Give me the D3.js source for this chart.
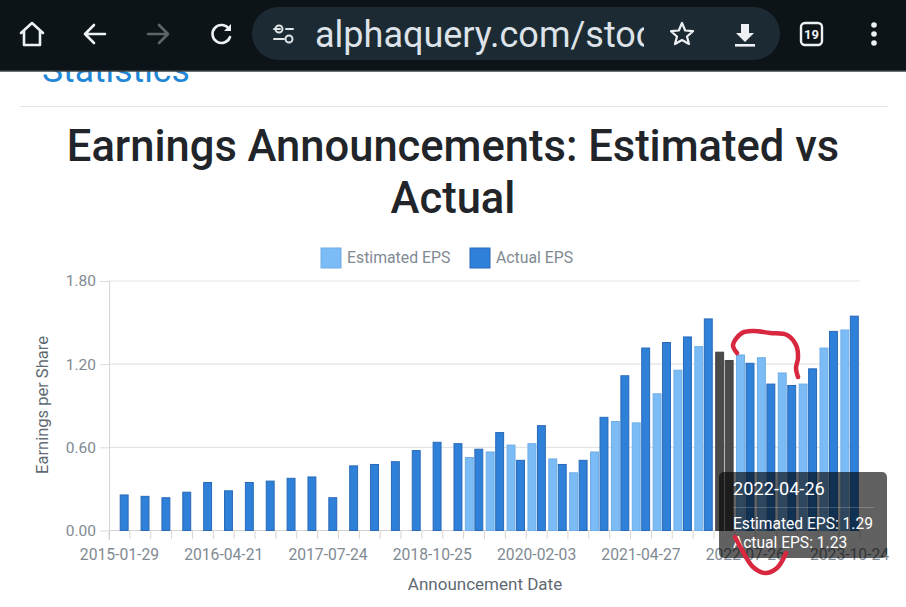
<!DOCTYPE html>
<html>
<head>
<meta charset="utf-8">
<script src="https://cdn.jsdelivr.net/npm/d3@7"></script>
<style>
  html,body{margin:0;padding:0;background:#fff;overflow:hidden}
  text{font-family:Roboto,sans-serif}
</style>
</head>
<body>
<svg id="chart" width="906" height="607"></svg>
<script>
const W = 906, H = 607;

// oldest first; no estimate for the first 17 announcements
const estimated = [null,null,null,null,null,null,null,null,null,null,null,null,null,null,null,null,null,
  0.53,0.57,0.62,0.63,0.52,0.42,0.57,0.79,0.78,0.99,1.16,1.33,1.29,1.27,1.25,1.14,1.06,1.32,1.45];
const actual = [0.26,0.25,0.24,0.28,0.35,0.29,0.35,0.36,0.38,0.39,0.24,0.47,0.48,0.50,0.58,0.64,0.63,
  0.59,0.71,0.51,0.76,0.48,0.51,0.82,1.12,1.32,1.36,1.40,1.53,1.23,1.21,1.06,1.05,1.17,1.44,1.55];
const xLabels = ['2015-01-29','2016-04-21','2017-07-24','2018-10-25','2020-02-03','2021-04-27','2022-07-26','2023-10-24'];
const yTicks = [0,0.6,1.2,1.8];
const seriesNames = ['Estimated EPS','Actual EPS'];
const seriesColors = ['#7bbcf6','#2f80d9'];
const seriesBorders = ['#6fade6','#2869b8'];
const hoverIndex = 29, hoverDate = '2022-04-26';

const svg = d3.select('#chart');

// ---- page behind the chart
svg.append('text').attr('x',42).attr('y',82).attr('font-size',35.5).attr('fill','#1f87d6').text('Statistics');
svg.append('line').attr('x1',20).attr('x2',888).attr('y1',106.5).attr('y2',106.5).attr('stroke','#e2e2e2');

svg.append('text').attr('x',453).attr('y',161).attr('text-anchor','middle').attr('font-size',43.5)
  .attr('font-weight',500).attr('fill','#212529').text('Earnings Announcements: Estimated vs');
svg.append('text').attr('x',453).attr('y',213).attr('text-anchor','middle').attr('font-size',43.5)
  .attr('font-weight',500).attr('fill','#212529').text('Actual');

// ---- scales
const x = d3.scaleBand().domain(d3.range(actual.length)).range([109,860]);
const inner = d3.scaleBand().domain([0,1]).range([0,x.bandwidth()]).paddingInner(0.06).paddingOuter(0.13);
const y = d3.scaleLinear().domain([0,1.8]).range([530.5,281]);

// ---- grid and axes
const gy = svg.append('g').attr('transform','translate(109,0)')
  .call(d3.axisLeft(y).tickValues(yTicks).tickFormat(d3.format('.2f')).tickSize(9).tickPadding(4));
gy.select('.domain').remove();
gy.selectAll('line').attr('stroke','#dcdcdc');
gy.selectAll('text').attr('font-size',15.5).attr('fill','#7f8a93').style('font-family','Roboto,sans-serif');

svg.append('g').selectAll('line').data(yTicks).join('line')
  .attr('x1',109).attr('x2',860).attr('y1',d=>y(d)).attr('y2',d=>y(d))
  .attr('stroke',d=>d===0?'#d4d4d4':'#e4e4e4').attr('stroke-width',1.2);
svg.append('line').attr('x1',109.5).attr('x2',109.5).attr('y1',281).attr('y2',540).attr('stroke','#d4d4d4');

svg.append('g').selectAll('line').data(d3.range(actual.length+1)).join('line')
  .attr('x1',d=>109+d*x.step()).attr('x2',d=>109+d*x.step())
  .attr('y1',530.5).attr('y2',539).attr('stroke','#d9d5d0');

svg.append('g').selectAll('text').data(xLabels).join('text')
  .attr('x',(d,i)=>x(i*5)+x.bandwidth()/2).attr('y',559.5).attr('text-anchor','middle')
  .attr('font-size',15.7).attr('fill','#7f8a93').text(d=>d);

svg.append('text').attr('x',485).attr('y',590).attr('text-anchor','middle')
  .attr('font-size',17).attr('fill','#5f6a73').text('Announcement Date');
svg.append('text').attr('transform','translate(48,405) rotate(-90)').attr('text-anchor','middle')
  .attr('font-size',16.5).attr('fill','#5f6a73').text('Earnings per Share');

// ---- legend
const legendX = [321,470];
const legend = svg.append('g').selectAll('g').data(seriesNames).join('g')
  .attr('transform',(d,i)=>`translate(${legendX[i]},248)`);
legend.append('rect').attr('width',20).attr('height',20)
  .attr('fill',(d,i)=>seriesColors[i]).attr('stroke',(d,i)=>seriesBorders[i]);
legend.append('text').attr('x',26).attr('y',15).attr('font-size',15.8).attr('fill','#7f8a93').text(d=>d);

// ---- bars
[estimated,actual].forEach((vals,s)=>{
  const rows = vals.map((v,i)=>({v,i})).filter(d=>d.v!==null);
  svg.append('g').selectAll('rect').data(rows).join('rect')
    .attr('x',d=>x(d.i)+inner(s)+0.5)
    .attr('width',inner.bandwidth()-1)
    .attr('y',d=>y(d.v)+0.5)
    .attr('height',d=>y(0)-y(d.v)-0.5)
    .attr('fill',d=>d.i===hoverIndex?'#4a4a4a':seriesColors[s])
    .attr('stroke',d=>d.i===hoverIndex?'#444':seriesBorders[s]);
});

// ---- tooltip
const tip = svg.append('g').attr('transform','translate(719,472)');
tip.append('rect').attr('width',168).attr('height',86).attr('rx',5).attr('fill','#000').attr('fill-opacity',0.62);
tip.append('text').attr('x',14).attr('y',23).attr('font-size',18.2).attr('fill','#fff').text(hoverDate);
tip.append('line').attr('x1',14).attr('x2',155).attr('y1',35.5).attr('y2',35.5).attr('stroke','#fff').attr('stroke-opacity',0.2);
tip.append('text').attr('x',14).attr('y',57).attr('font-size',15.6).attr('fill','#fff')
  .text(`${seriesNames[0]}: ${estimated[hoverIndex].toFixed(2)}`);
tip.append('text').attr('x',14).attr('y',76).attr('font-size',15.6).attr('fill','#fff')
  .text(`${seriesNames[1]}: ${actual[hoverIndex].toFixed(2)}`);

// ---- red pen marks somebody drew on the screenshot
const pen = d3.line().curve(d3.curveCatmullRom);
const penMarks = [
  [[737,353],[733,345],[742,333],[753,331],[770,333],[787,335],[796,345],[798,358],[796,368],[798,377]],
  [[735,537],[742,550],[753,567],[765,573],[777,568],[786,553]]
];
svg.append('g').selectAll('path').data(penMarks).join('path')
  .attr('d',pen).attr('fill','none').attr('stroke','#d8283f').attr('stroke-width',4.5).attr('stroke-linecap','round');

// ---- browser toolbar
const bar = svg.append('g');
bar.append('rect').attr('width',W).attr('height',71).attr('fill','#0d1418');
bar.append('line').attr('x1',0).attr('x2',W).attr('y1',71).attr('y2',71).attr('stroke','#3c4043').attr('stroke-width',1.5);
bar.append('rect').attr('x',252).attr('y',7).attr('width',528).attr('height',53).attr('rx',26.5).attr('fill','#1c2a33');

const icon = (d,col,w) => bar.append('path').attr('d',d).attr('fill','none').attr('stroke',col||'#eef1f3')
  .attr('stroke-width',w||2.6).attr('stroke-linejoin','round').attr('stroke-linecap','round');
icon('M21 33 L32 23 L43 33 M24 31 V45 H40 V31');
icon('M105 34 H85 M94 25 L85 34 L94 43');
icon('M168 34 H148 M159 25 L168 34 L159 43','#5f6468');
icon('M229 29 A9 9 0 1 0 230 37');
bar.append('path').attr('d','M231 24 V31 H224 Z').attr('fill','#eef1f3');
icon('M274 29 H280 M274 39 H284','#dfe4e7',2);
bar.append('circle').attr('cx',279).attr('cy',29).attr('r',3.5).attr('fill','none').attr('stroke','#dfe4e7').attr('stroke-width',2);
bar.append('circle').attr('cx',289).attr('cy',39).attr('r',3.5).attr('fill','none').attr('stroke','#dfe4e7').attr('stroke-width',2);
icon('M286 29 H293','#dfe4e7',2);

svg.append('defs').append('clipPath').attr('id','urlClip')
  .append('rect').attr('x',310).attr('y',7).attr('width',334).attr('height',53);
bar.append('text').attr('x',315).attr('y',47).attr('font-size',36).attr('fill','#dde3e8')
  .attr('clip-path','url(#urlClip)').text('alphaquery.com/stocks');

icon('M682 23 L685.2 30.5 L693 31.2 L687 36.5 L689 44 L682 40 L675 44 L677 36.5 L671 31.2 L678.8 30.5 Z','#eef1f3',2.2);
bar.append('path').attr('d','M741 24 H749 V33 H754 L745 42 L736 33 H741 Z').attr('fill','#eef1f3');
bar.append('rect').attr('x',735).attr('y',44).attr('width',20).attr('height',2.6).attr('fill','#eef1f3');
bar.append('rect').attr('x',801).attr('y',23).attr('width',21).attr('height',22).attr('rx',4)
  .attr('fill','none').attr('stroke','#eef1f3').attr('stroke-width',2.4);
bar.append('text').attr('x',811.5).attr('y',39).attr('text-anchor','middle').attr('font-size',13)
  .attr('font-weight',700).attr('fill','#eef1f3').text('19');
bar.append('g').selectAll('circle').data([25,34,43]).join('circle')
  .attr('cx',874).attr('cy',d=>d).attr('r',2.8).attr('fill','#eef1f3');
</script>
</body>
</html>
